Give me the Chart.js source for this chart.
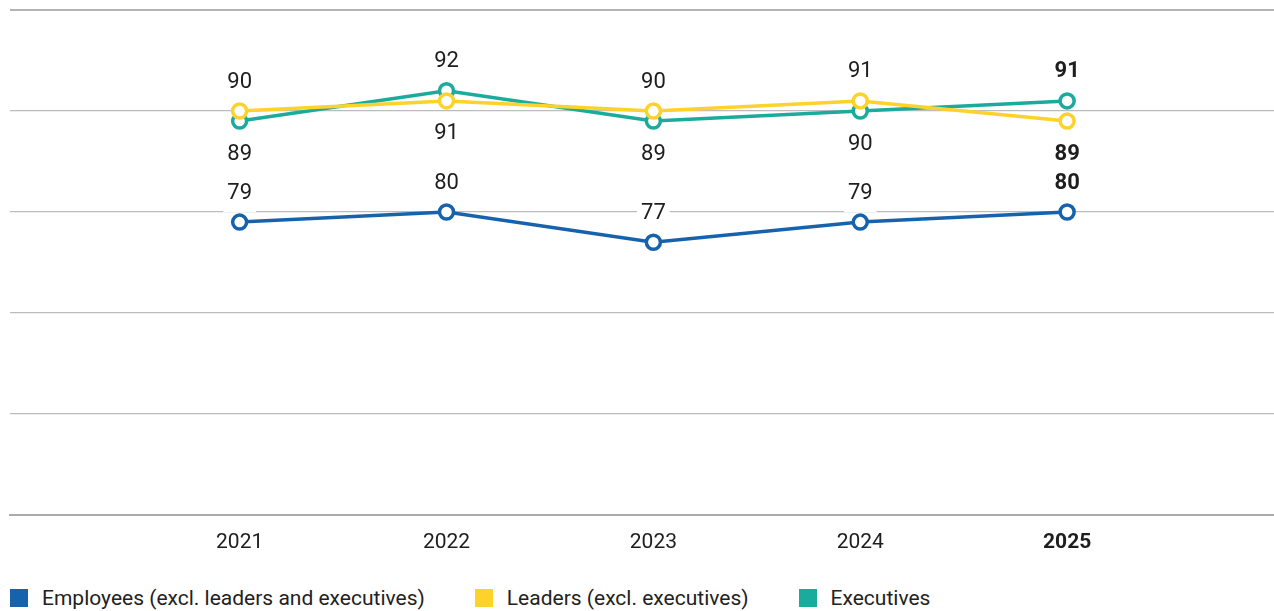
<!DOCTYPE html>
<html>
<head>
<meta charset="utf-8">
<script src="https://cdn.jsdelivr.net/npm/chart.js@4/dist/chart.umd.min.js"></script>
<style>
  html, body { margin: 0; padding: 0; background: #fff; overflow: hidden; }
  #wrap { position: relative; width: 1274px; height: 611px; }
  #chart { position: absolute; left: 0; top: 0; }
  #legend { position: absolute; left: 10px; top: 587px; display: flex; font-family: Roboto, sans-serif; font-size: 21px; color: #222; }
  .item { display: flex; align-items: center; margin-right: 50px; line-height: 22px; }
  .box { width: 18px; height: 18px; margin-right: 14px; }
</style>
</head>
<body>
<div id="wrap">
  <canvas id="chart" width="1274" height="565"></canvas>
  <div id="legend"></div>
</div>
<script>
// Data
const years = [2021, 2022, 2023, 2024, 2025];
const employees = [79, 80, 77, 79, 80];
const leaders = [90, 91, 90, 91, 89];
const executives = [89, 92, 89, 90, 91];
const yTicks = [50, 60, 70, 80, 90, 100];

const FONT = 'Roboto, sans-serif';
const colors = {
  blue: '#1762ad',
  yellow: '#fdd22b',
  teal: '#1bab9d'
};

const toPoints = (vals) => vals.map((v, i) => ({ x: years[i], y: v }));

// Draws value labels above the point, or below when another series sits just above it
const valueLabels = {
  id: 'valueLabels',
  _items(chart) {
    const items = [];
    const sets = chart.data.datasets;
    sets.forEach((ds, di) => {
      const meta = chart.getDatasetMeta(di);
      meta.data.forEach((pt, i) => {
        const v = ds.data[i].y;
        const below = sets.some((o, oi) => oi !== di && o.data[i].y > v && o.data[i].y - v < 5);
        const y = below ? pt.y + 33 : pt.y - 29;
        items.push({ x: pt.x, y, text: String(v), bold: i === years.length - 1, bg: ds.labelBg });
      });
    });
    return items;
  },
  beforeDatasetsDraw(chart) {
    const ctx = chart.ctx;
    ctx.save();
    this._items(chart).forEach(it => {
      if (!it.bg) return;
      ctx.font = (it.bold ? 'bold ' : '') + '22px ' + FONT;
      const w = ctx.measureText(it.text).width + 8;
      ctx.fillStyle = '#fff';
      ctx.fillRect(it.x - w / 2, it.y - 14, w, 33);
    });
    ctx.restore();
  },
  afterDatasetsDraw(chart) {
    const ctx = chart.ctx;
    ctx.save();
    ctx.textAlign = 'center';
    ctx.textBaseline = 'middle';
    ctx.fillStyle = '#1e1e1e';
    this._items(chart).forEach(it => {
      ctx.font = (it.bold ? 'bold ' : '') + '22px ' + FONT;
      ctx.fillText(it.text, it.x, it.y);
    });
    ctx.restore();
  }
};

const lineStyle = (color) => ({
  borderColor: color,
  backgroundColor: '#fff',
  borderWidth: 3.5,
  pointRadius: 7,
  pointBorderWidth: 3.5,
  pointBackgroundColor: '#fff',
  pointBorderColor: color,
  tension: 0,
  fill: false
});

const chart = new Chart(document.getElementById('chart'), {
  type: 'line',
  data: {
    datasets: [
      { label: 'Employees (excl. leaders and executives)', data: toPoints(employees), order: 2, labelBg: true, ...lineStyle(colors.blue) },
      { label: 'Leaders (excl. executives)', data: toPoints(leaders), order: 0, ...lineStyle(colors.yellow) },
      { label: 'Executives', data: toPoints(executives), order: 1, ...lineStyle(colors.teal) }
    ]
  },
  options: {
    responsive: false,
    animation: false,
    layout: { autoPadding: false, padding: { top: 10, left: 10, right: 0, bottom: 0 } },
    plugins: {
      legend: { display: false },
      tooltip: { enabled: false }
    },
    scales: {
      x: {
        type: 'linear',
        min: 2019.89,
        max: 2026.0,
        afterBuildTicks: (scale) => { scale.ticks = years.map(v => ({ value: v })); },
        afterFit: (scale) => { scale.height = 50; },
        grid: { display: false, drawTicks: false },
        border: { display: true, color: '#ababab', width: 2 },
        ticks: {
          padding: 15,
          color: '#1e1e1e',
          callback: (v) => String(v),
          font: (c) => ({ family: FONT, size: 21, weight: c.tick && c.tick.value === 2025 ? 'bold' : 'normal' })
        }
      },
      y: {
        min: 50,
        max: 100,
        afterBuildTicks: (scale) => { scale.ticks = yTicks.map(v => ({ value: v })); },
        afterFit: (scale) => { scale.width = 0; },
        border: { display: false },
        grid: {
          drawTicks: false,
          color: (c) => c.tick && c.tick.value === 100 ? '#b3b3b3' : '#bcbcbc',
          lineWidth: (c) => c.tick && (c.tick.value === 100 || c.tick.value === 50) ? 2 : 1.2
        },
        ticks: { display: false }
      }
    }
  },
  plugins: [valueLabels]
});

// HTML legend in reference order
const legendOrder = [0, 1, 2];
const legendEl = document.getElementById('legend');
legendOrder.forEach(i => {
  const ds = chart.data.datasets[i];
  const item = document.createElement('div');
  item.className = 'item';
  item.innerHTML = '<span class="box" style="background:' + ds.borderColor + '"></span><span>' + ds.label + '</span>';
  legendEl.appendChild(item);
});
</script>
</body>
</html>
